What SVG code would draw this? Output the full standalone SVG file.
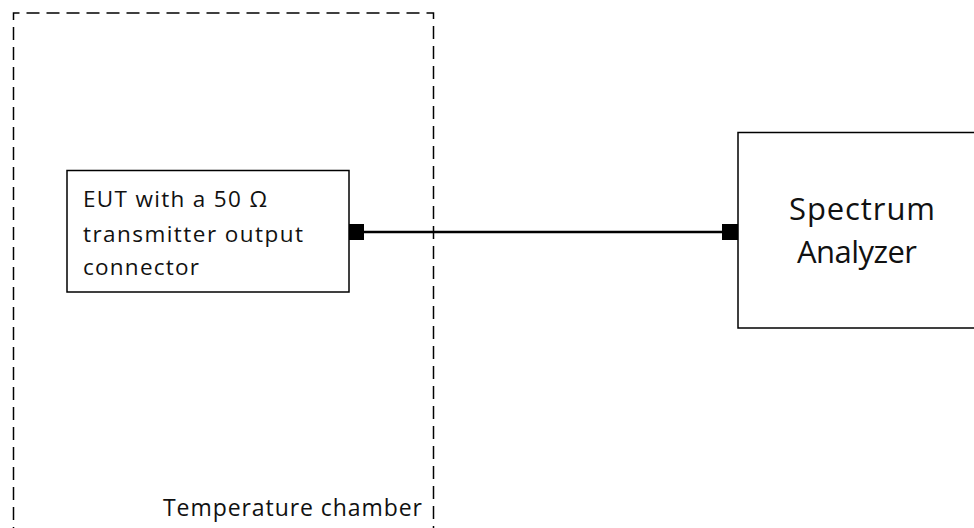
<svg xmlns="http://www.w3.org/2000/svg" width="974" height="528" viewBox="0 0 974 528">
<style>
.box{fill:#fff;stroke:#000;stroke-width:1.5}
.t{font-family:"Open Sans","Liberation Sans",Arial,sans-serif;fill:#111}
.port{fill:#000}
</style>
<rect width="974" height="528" fill="#fff"/>
<g id="chamber">
<path d="M13.5,540 V13 H433.5 V540" fill="none" stroke="#000" stroke-width="1.5" stroke-dasharray="13,7"/>
<text class="t" x="163" y="516" font-size="23" textLength="259" lengthAdjust="spacing">Temperature chamber</text>
</g>
<g id="eut">
<rect class="box" x="67" y="170.5" width="282" height="121.5"/>
<text class="t" font-size="22.5"><tspan x="83" y="207" textLength="184" lengthAdjust="spacing">EUT with a 50 Ω</tspan></text>
<text class="t" font-size="22.5"><tspan x="83" y="242" textLength="220" lengthAdjust="spacing">transmitter output</tspan></text>
<text class="t" font-size="22.5"><tspan x="83" y="275" textLength="116" lengthAdjust="spacing">connector</tspan></text>
<rect class="port" x="349" y="224" width="15" height="16"/>
</g>
<g id="analyzer">
<rect class="box" x="738" y="132.5" width="250" height="195.5"/>
<text class="t" font-size="31" x="789" y="220" textLength="146" lengthAdjust="spacing">Spectrum</text>
<text class="t" font-size="31" x="797" y="263" textLength="120" lengthAdjust="spacing">Analyzer</text>
<rect class="port" x="722" y="224" width="16" height="16"/>
</g>
<g id="connectors">
<line x1="364" y1="232" x2="722" y2="232" stroke="#000" stroke-width="2.5"/>
</g>
</svg>
